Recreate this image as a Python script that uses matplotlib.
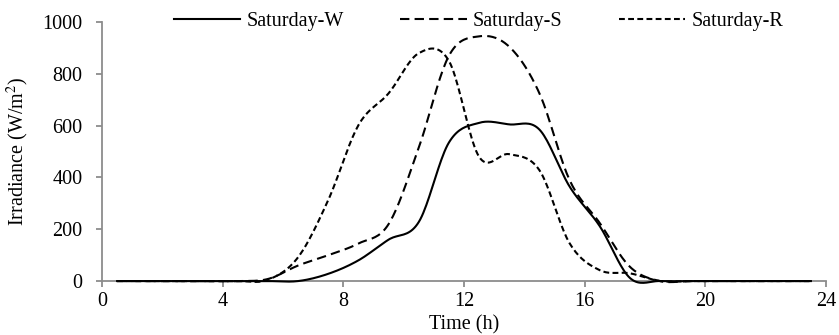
import numpy as np
import matplotlib.pyplot as plt

plt.rcParams['font.family'] = ['Liberation Serif', 'DejaVu Serif']
plt.rcParams['mathtext.fontset'] = 'stix'

# hourly readings, taken at the middle of each hour
hours = [h + 0.5 for h in range(24)]
sat_w = [0, 0, 0, 0, 0, 0, 0, 28, 80, 160, 228, 535, 611, 605, 585, 365,
         212, 12, 0, 0, 0, 0, 0, 0]
sat_s = [0, 0, 0, 0, 0, 8, 60, 100, 145, 220, 515, 870, 945, 905, 725, 390,
         224, 55, 0, 0, 0, 0, 0, 0]
sat_r = [0, 0, 0, 0, 0, 5, 92, 313, 602, 725, 880, 850, 480, 490, 428, 146,
         42, 30, 0, 0, 0, 0, 0, 0]

series = [("Saturday-W", sat_w, "-"),
          ("Saturday-S", sat_s, (0, (4.5, 2.5))),
          ("Saturday-R", sat_r, (0, (2.8, 1.6)))]


def smooth(x, y, n=20):
    # catmull-rom pass through the points, like a spreadsheet "smoothed line"
    x = np.asarray(x, float)
    y = np.asarray(y, float)
    px = np.concatenate([[2 * x[0] - x[1]], x, [2 * x[-1] - x[-2]]])
    py = np.concatenate([[y[0]], y, [y[-1]]])
    xs, ys = [], []
    t = np.linspace(0, 1, n, endpoint=False)
    for i in range(1, len(px) - 2):
        for arr, out in ((px, xs), (py, ys)):
            p0, p1, p2, p3 = arr[i - 1], arr[i], arr[i + 1], arr[i + 2]
            out.extend(0.5 * ((2 * p1) + (-p0 + p2) * t
                              + (2 * p0 - 5 * p1 + 4 * p2 - p3) * t ** 2
                              + (-p0 + 3 * p1 - 3 * p2 + p3) * t ** 3))
    xs.append(x[-1])
    ys.append(y[-1])
    return np.array(xs), np.array(ys)


fig, ax = plt.subplots(figsize=(8.39, 3.35), dpi=100)
fig.subplots_adjust(left=0.1216, right=0.9845, top=0.934, bottom=0.161)

for label, vals, ls in series:
    sx, sy = smooth(hours, vals)
    ax.plot(sx, sy, color="black", linestyle=ls, linewidth=1.5, label=label,
            clip_on=False, zorder=3)

ax.set_xlim(0, 24)
ax.set_ylim(0, 1000)
ax.set_xticks(range(0, 25, 4))
ax.set_yticks(range(0, 1001, 200))
for side in ("top", "right"):
    ax.spines[side].set_visible(False)
for side in ("bottom", "left"):
    ax.spines[side].set_color("#8c8c8c")
    ax.spines[side].set_linewidth(1.3)
ax.tick_params(axis="both", colors="#8c8c8c", length=4, width=1.3,
               labelcolor="black", labelsize=14.5)
ax.tick_params(axis="x", pad=4)
ax.tick_params(axis="y", pad=10)

ax.set_xlabel("Time (h)", fontsize=14.5, labelpad=3)
ax.set_ylabel("Irradiance (W/m$^2$)", fontsize=14.5, labelpad=8)

leg = ax.legend(ncol=3, loc="upper center", bbox_to_anchor=(0.52, 1.11),
                frameon=False, fontsize=14.5, handlelength=3.3,
                handletextpad=0.3, columnspacing=2.8)

fig.savefig("out.png", dpi=100)
